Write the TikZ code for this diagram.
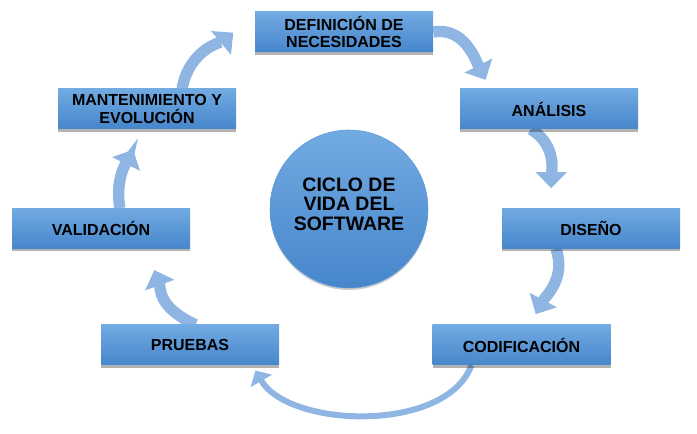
\documentclass[tikz,border=0pt]{standalone}
\usepackage{fontspec}
\setmainfont{Liberation Sans}
\usetikzlibrary{arrows.meta,shadows,backgrounds}
\definecolor{cajaarriba}{RGB}{114,170,226}
\definecolor{cajaabajo}{RGB}{70,134,203}
\definecolor{flechaazul}{RGB}{143,181,227}

\begin{document}
\begin{tikzpicture}[x=0.75pt,y=0.75pt,
    fase/.style={rectangle, minimum width=133.5pt, minimum height=30pt, inner sep=0pt,
      top color=cajaarriba, bottom color=cajaabajo, align=center,
      drop shadow={shadow xshift=0pt, shadow yshift=-2pt, opacity=0.3, fill=black},
      font=\fontsize{12}{13.3}\selectfont\bfseries},
    ciclo/.style={circle, minimum size=118.5pt, inner sep=0pt, align=center,
      top color=cajaarriba, bottom color=cajaabajo, text depth=7.5pt,
      draw=cajaarriba!50!cajaabajo, line width=0.4pt,
      drop shadow={shadow xshift=0pt, shadow yshift=-1.5pt, opacity=0.2, fill=black},
      font=\fontsize{14.6}{14.6}\selectfont\bfseries},
    flecha/.style={flechaazul, line width=8.5pt, -{Triangle[width=22.5pt,length=12pt]}},
    flechafina/.style={flechaazul, line width=4.5pt, -{Triangle[width=18pt,length=9pt]}}]
         \useasboundingbox (0,0) rectangle (697,-434);
         \node [ciclo] (C) at (349,-209) {CICLO DE\\VIDA DEL\\SOFTWARE};
         \node [fase] (DEF) at (344,-32) {DEFINICIÓN DE\\NECESIDADES};
         \node [fase] (ANA) at (549,-109) {ANÁLISIS};
         \node [fase] (DIS) at (591,-228.5) {DISEÑO};
         \node [fase] (COD) at (521.5,-345) {CODIFICACIÓN};
         \node [fase] (PRU) at (190,-345) {PRUEBAS};
         \node [fase] (VAL) at (101,-228.5) {VALIDACIÓN};
         \node [fase] (MAN) at (147,-109) {MANTENIMIENTO Y\\EVOLUCIÓN};
         \begin{scope}[on background layer]
         \draw [flecha, shorten >=21pt] (MAN.30) to[out=80, in=220] (DEF.169);
         \draw [flecha, shorten >=7.5pt] (DEF.east) to[out=10, in=117] (ANA.161);
         \draw [flecha, shorten >=15pt] (ANA.228) to[out=330, in=90] (DIS.153);
         \draw [flecha, shorten >=9pt] (DIS.210) to[out=290, in=62] (COD.67);
         \draw [flechafina, shorten >=4.5pt] (COD.202) to[out=250, in=300, looseness=0.85] (PRU.342);
         \draw [flecha, shorten >=17pt] (PRU.75) to[out=155, in=290, looseness=1.2] (VAL.336);
         \draw [flecha, shorten >=17pt] (VAL.47) to[out=100, in=244] (MAN.259);
         \end{scope}
\end{tikzpicture}
\end{document}
